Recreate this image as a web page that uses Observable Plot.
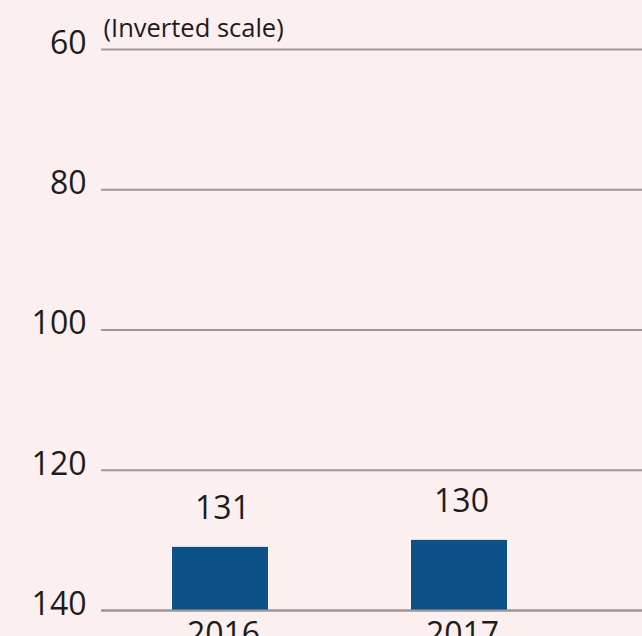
<!DOCTYPE html>
<html>
<head>
<meta charset="utf-8">
<script src="https://cdn.jsdelivr.net/npm/d3@7"></script>
<script src="https://cdn.jsdelivr.net/npm/@observablehq/plot@0.6"></script>
<style>
  html, body { margin: 0; padding: 0; background: #fcefef; }
  #chart { width: 642px; height: 636px; overflow: hidden; }
</style>
</head>
<body>
<div id="chart"></div>
<script>
const years = ["2016", "2017"];
const values = [131, 130];
const yTicks = [60, 80, 100, 120, 140];
const note = "(Inverted scale)";

const data = years.map((year, i) => ({year, value: values[i]}));

const chart = Plot.plot({
  width: 642,
  height: 636,
  marginLeft: 101,
  marginRight: 0,
  marginTop: 49,
  marginBottom: 26,
  style: {background: "#fcefef", fontFamily: "'Open Sans', Lato, sans-serif", color: "#1c1c1c", overflow: "hidden"},
  x: {type: "band", domain: years, range: [100, 578], paddingInner: 0.6, paddingOuter: 0.3, label: null},
  y: {domain: [60, 140], reverse: true, label: null},
  marks: [
    Plot.ruleY(yTicks, {stroke: "#9d9797", strokeWidth: 2}),
    Plot.barY(data, {x: "year", y1: 140, y2: "value", fill: "#0c5188"}),
    Plot.ruleY([140], {stroke: "#9d9797", strokeWidth: 2}),
    Plot.text(data, {x: "year", y: "value", text: d => String(d.value), dy: -39, dx: 2, fontSize: 32, fill: "#1c1c1c"}),
    Plot.axisY({ticks: yTicks, tickSize: 0, tickPadding: 15, fontSize: 32, dy: -6, label: null, fill: "#1c1c1c"}),
    Plot.axisX({ticks: years, tickSize: 0, tickPadding: 12, fontSize: 32, dx: 3, label: null, fill: "#1c1c1c"}),
    Plot.text([note], {frameAnchor: "top-left", textAnchor: "start", lineAnchor: "bottom", dx: 2, dy: -13, fontSize: 25.5, fill: "#1c1c1c"})
  ]
});
document.getElementById("chart").appendChild(chart);
</script>
</body>
</html>
